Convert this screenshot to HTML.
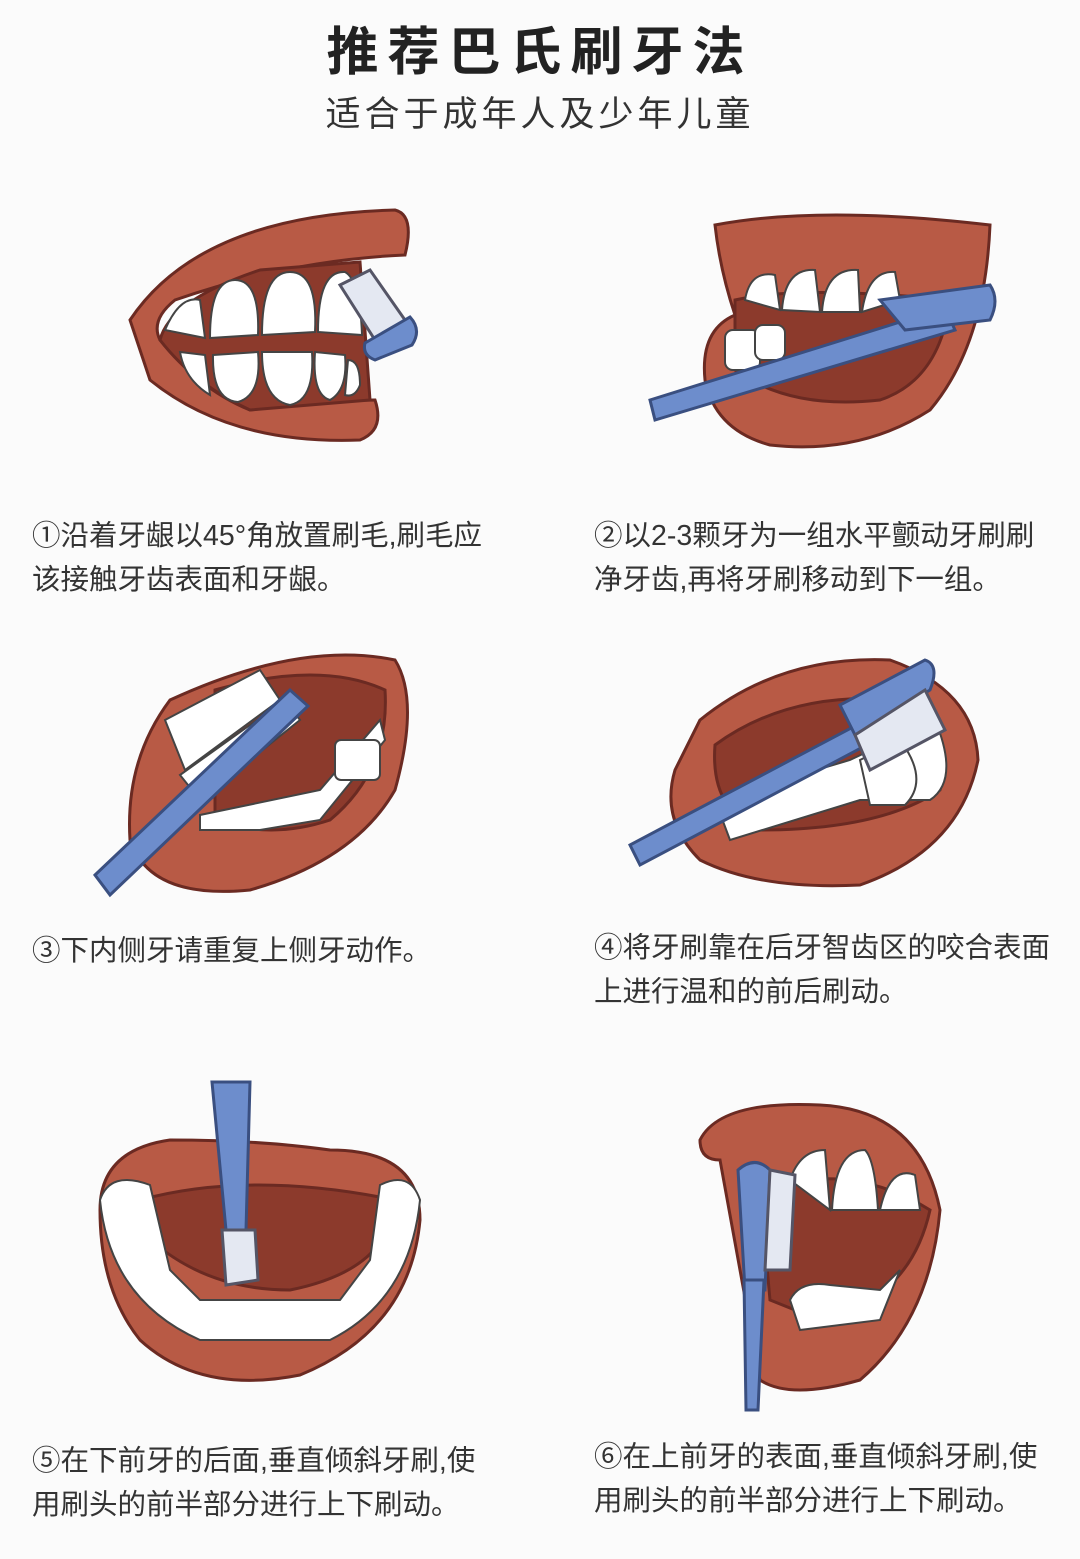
<!DOCTYPE html>
<html><head><meta charset="utf-8"><style>
body{margin:0;background:#fbfbfb;width:1080px;height:1559px;overflow:hidden;position:relative;font-family:"Liberation Sans","Noto Sans CJK SC",sans-serif;color:#2a2a2a}
.t{position:absolute;left:0;width:1080px;text-align:center}
.c{position:absolute;font-size:28.5px;line-height:44px;color:#333}
svg{position:absolute;left:0;top:0}
</style></head><body>
<div class="t" style="top:10px;font-size:52px;font-weight:bold;letter-spacing:9px;color:#222">推荐巴氏刷牙法</div>
<div class="t" style="top:86px;font-size:35px;letter-spacing:4px;color:#333">适合于成年人及少年儿童</div>
<svg width="1080" height="1559" viewBox="0 0 1080 1559">
<g stroke="#6b2a22" stroke-width="3">
<!-- mouth 1 -->
<path d="M130 320 Q200 215 395 210 Q415 215 405 255 Q290 260 175 300 Q150 320 160 340 Q200 390 250 410 Q330 400 375 400 Q385 430 360 440 Q230 445 150 380 Z" fill="#b85a45"/>
<path d="M160 340 Q170 300 260 270 L360 262 L370 400 L250 410 Q195 385 160 340Z" fill="#8c3a2c"/>
<g fill="#fff" stroke="#444" stroke-width="2">
<path d="M165 330 Q180 295 200 300 L205 338 Z"/><path d="M210 338 Q210 280 235 280 Q260 280 258 335 Z"/>
<path d="M262 335 Q262 272 290 272 Q318 272 315 332 Z"/><path d="M318 332 Q318 270 345 272 Q360 280 362 335 Z"/>
<path d="M180 352 L205 355 L210 395 Q185 380 180 352Z"/><path d="M213 355 L258 352 Q262 395 238 402 Q212 400 213 355Z"/>
<path d="M262 352 L312 352 Q315 400 290 405 Q262 400 262 352Z"/><path d="M315 352 L345 355 Q348 390 330 400 Q312 395 315 352Z"/>
<path d="M348 360 Q360 360 360 385 Q355 398 345 395 Z"/>
</g>
<path d="M340 285 L370 270 L405 320 L375 340 Z" fill="#e4e8f2" stroke="#556"/>
<path d="M365 343 L410 317 Q422 330 412 345 L375 360 Q362 355 365 343Z" fill="#6d8dcc" stroke="#3a4f80"/>
<!-- mouth 2 -->
<path d="M715 225 Q820 205 990 225 Q985 345 930 410 Q860 455 770 445 Q715 430 705 380 Q700 330 735 315 Q720 270 715 225Z" fill="#b85a45"/>
<path d="M735 300 Q800 285 950 300 Q940 380 880 400 Q790 410 735 370 Z" fill="#8c3a2c"/>
<g fill="#fff" stroke="#444" stroke-width="2">
<path d="M745 300 Q750 270 775 275 L780 310Z"/><path d="M782 310 Q785 268 815 270 L820 312Z"/><path d="M822 312 Q825 268 858 270 L860 312Z"/><path d="M862 312 Q868 270 895 272 L900 300Z"/>
<rect x="725" y="330" width="35" height="40" rx="8"/><rect x="755" y="325" width="30" height="35" rx="8"/>
</g>
<path d="M650 400 L945 308 L955 330 L655 420 Z" fill="#6d8dcc" stroke="#3a4f80"/>
<path d="M880 300 L990 285 Q1000 300 990 320 L905 330 Z" fill="#6d8dcc" stroke="#3a4f80"/>
<!-- mouth 3 -->
<path d="M170 700 Q300 640 395 660 Q420 700 395 790 Q355 860 250 890 Q150 900 130 840 Q125 760 170 700Z" fill="#b85a45"/>
<path d="M215 690 Q320 660 385 690 Q390 770 330 820 Q270 840 215 820 Z" fill="#8c3a2c"/>
<g fill="#fff" stroke="#444" stroke-width="2">
<path d="M165 720 L260 670 L280 700 L185 770 Z"/><path d="M180 775 L285 700 L300 720 L200 800Z"/>
<path d="M200 830 L260 830 L320 820 L385 740 L380 720 L320 790 L200 815 Z"/>
<rect x="335" y="740" width="45" height="40" rx="6"/>
</g>
<path d="M95 875 L290 690 L308 706 L110 895 Z" fill="#6d8dcc" stroke="#3a4f80"/>
<!-- mouth 4 -->
<path d="M700 720 Q780 655 890 660 Q975 690 978 760 Q960 850 860 885 Q760 890 700 860 Q660 820 675 770 Z" fill="#b85a45"/>
<path d="M715 745 Q790 690 900 700 Q955 740 940 790 Q880 830 760 830 Q710 810 715 745Z" fill="#8c3a2c"/>
<g fill="#fff" stroke="#444" stroke-width="2">
<path d="M715 800 L850 760 L935 720 Q960 780 930 800 L860 800 L730 840 Z"/>
<path d="M860 760 L900 740 Q930 780 905 805 L870 805Z"/>
</g>
<path d="M630 845 L870 718 L880 738 L640 865 Z" fill="#6d8dcc" stroke="#3a4f80"/>
<path d="M840 705 L925 660 Q940 665 930 690 L855 735 Z" fill="#6d8dcc" stroke="#3a4f80"/>
<path d="M855 735 L925 690 L945 730 L870 770 Z" fill="#e4e8f2" stroke="#556"/>
<!-- mouth 5 -->
<path d="M100 1210 Q100 1150 170 1140 Q260 1140 330 1150 Q420 1150 420 1220 Q410 1330 300 1375 Q200 1395 140 1340 Q100 1290 100 1210Z" fill="#b85a45"/>
<path d="M140 1200 Q250 1170 395 1200 Q390 1270 290 1290 Q200 1290 140 1230 Z" fill="#8c3a2c"/>
<g fill="#fff" stroke="#444" stroke-width="2">
<path d="M100 1200 Q110 1170 150 1185 L170 1270 L200 1300 L340 1300 L370 1260 L380 1185 Q410 1170 420 1200 Q410 1300 330 1340 L200 1340 Q110 1300 100 1200Z"/>
</g>
<path d="M212 1082 L250 1082 L246 1230 L226 1230 Z" fill="#6d8dcc" stroke="#3a4f80"/>
<path d="M222 1230 L255 1230 L258 1280 L226 1285 Z" fill="#e4e8f2" stroke="#556"/>
<!-- mouth 6 -->
<path d="M700 1140 Q720 1100 820 1105 Q920 1110 940 1210 Q930 1320 860 1380 Q790 1400 760 1380 L720 1160 Q700 1160 700 1140Z" fill="#b85a45"/>
<path d="M760 1190 Q850 1160 930 1210 Q910 1300 820 1320 L770 1300 Z" fill="#8c3a2c"/>
<g fill="#fff" stroke="#444" stroke-width="2">
<path d="M790 1180 Q800 1150 825 1150 L830 1210Z"/><path d="M832 1210 Q835 1150 865 1150 Q875 1160 878 1210Z"/><path d="M880 1210 Q890 1165 915 1175 L920 1210Z"/>
<path d="M790 1300 Q800 1280 830 1285 L880 1290 L900 1270 L880 1320 L800 1330Z"/>
</g>
<path d="M738 1170 Q755 1155 770 1170 L765 1290 L745 1290 Z" fill="#6d8dcc" stroke="#3a4f80"/>
<path d="M744 1280 L764 1280 L758 1410 L746 1410 Z" fill="#6d8dcc" stroke="#3a4f80"/>
<path d="M770 1170 L795 1175 L790 1270 L765 1270 Z" fill="#e4e8f2" stroke="#556"/>
</g>
</svg>
<div class="c" style="left:32px;top:514px">①沿着牙龈以45°角放置刷毛,刷毛应<br>该接触牙齿表面和牙龈。</div>
<div class="c" style="left:594px;top:514px">②以2-3颗牙为一组水平颤动牙刷刷<br>净牙齿,再将牙刷移动到下一组。</div>
<div class="c" style="left:32px;top:929px">③下内侧牙请重复上侧牙动作。</div>
<div class="c" style="left:594px;top:926px">④将牙刷靠在后牙智齿区的咬合表面<br>上进行温和的前后刷动。</div>
<div class="c" style="left:32px;top:1439px">⑤在下前牙的后面,垂直倾斜牙刷,使<br>用刷头的前半部分进行上下刷动。</div>
<div class="c" style="left:594px;top:1435px">⑥在上前牙的表面,垂直倾斜牙刷,使<br>用刷头的前半部分进行上下刷动。</div>
</body></html>
